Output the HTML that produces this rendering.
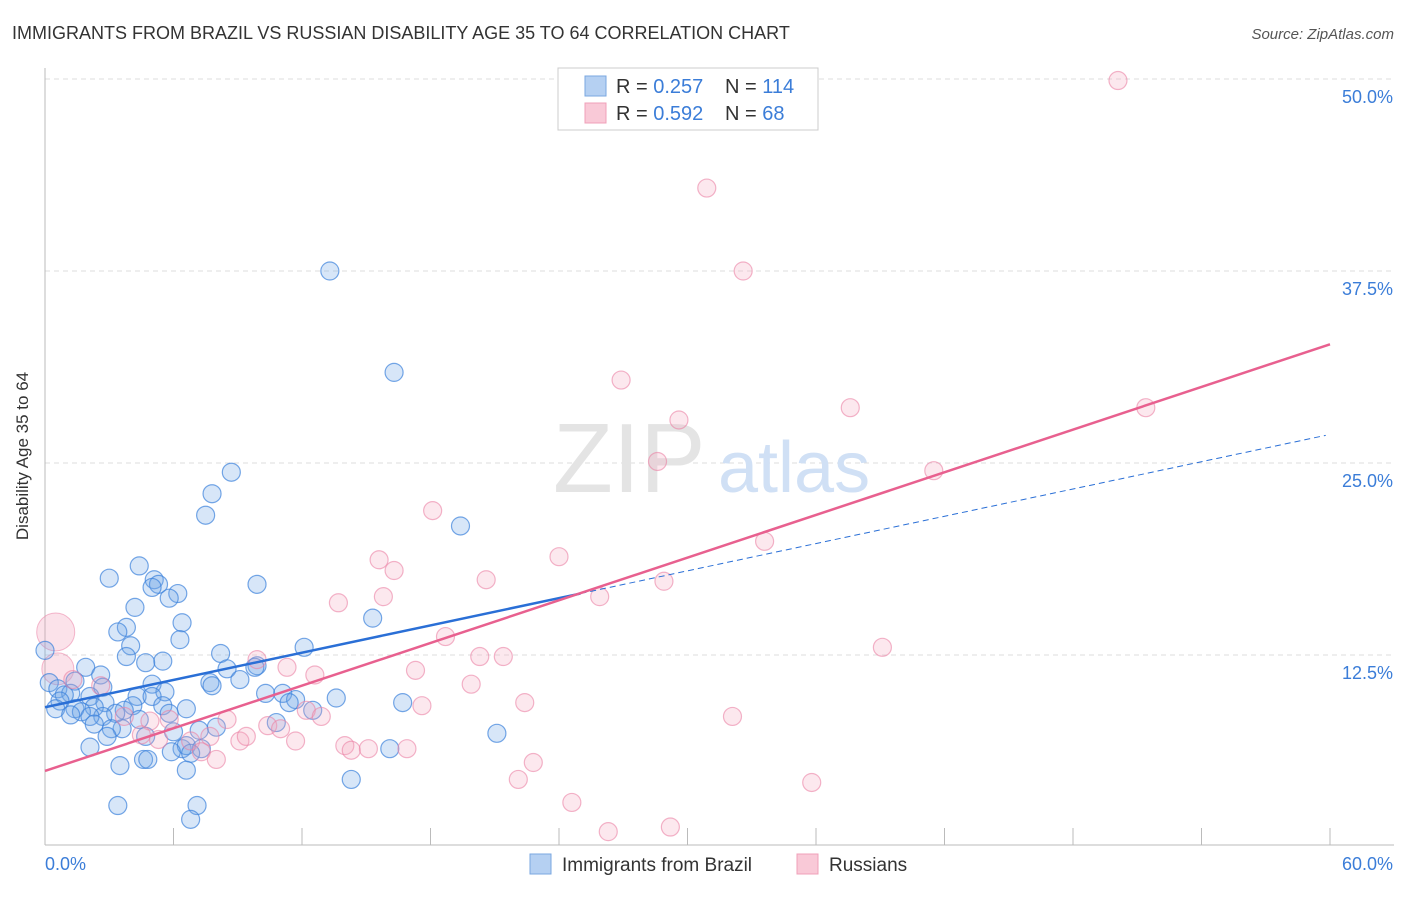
<!DOCTYPE html>
<html><head><meta charset="utf-8"><style>
body{margin:0;background:#fff;font-family:"Liberation Sans",sans-serif;}
svg text{font-family:"Liberation Sans",sans-serif;}
</style></head><body>
<svg width="1406" height="892" viewBox="0 0 1406 892" xmlns="http://www.w3.org/2000/svg">
<text x="12" y="39" font-size="18" fill="#333">IMMIGRANTS FROM BRAZIL VS RUSSIAN DISABILITY AGE 35 TO 64 CORRELATION CHART</text>
<text x="1394" y="39" font-size="15" fill="#555" font-style="italic" text-anchor="end">Source: ZipAtlas.com</text>
<text x="28" y="456" font-size="17" fill="#333" text-anchor="middle" transform="rotate(-90 28 456)">Disability Age 35 to 64</text>
<g id="grid"></g>
<g id="axes"></g>
<text x="553" y="492" font-size="98" fill="#e4e4e4" font-family="Liberation Serif">ZIP</text>
<text x="718" y="492" font-size="72" fill="#d0e0f5">atlas</text>
<g id="pts"></g>
<g id="lines"></g>
<g>
<rect x="558" y="68" width="260" height="62" fill="#fff" stroke="#ccc"/>
<rect x="585" y="76" width="21" height="20" fill="#b5d0f2" stroke="#7aa7e0"/>
<rect x="585" y="103" width="21" height="20" fill="#f9c9d7" stroke="#f0a0b8"/>
<text x="616" y="93" font-size="20" fill="#333">R = <tspan fill="#3b7dd8">0.257</tspan></text>
<text x="725" y="93" font-size="20" fill="#333">N = <tspan fill="#3b7dd8">114</tspan></text>
<text x="616" y="120" font-size="20" fill="#333">R = <tspan fill="#3b7dd8">0.592</tspan></text>
<text x="725" y="120" font-size="20" fill="#333">N = <tspan fill="#3b7dd8"> 68</tspan></text>
</g>
<g>
<rect x="530" y="854" width="21" height="20" fill="#b5d0f2" stroke="#7aa7e0"/>
<text x="562" y="871" font-size="19" fill="#333">Immigrants from Brazil</text>
<rect x="797" y="854" width="21" height="20" fill="#f9c9d7" stroke="#f0a0b8"/>
<text x="829" y="871" font-size="19" fill="#333">Russians</text>
</g>
</svg>
<script>
const yTicks=[12.5,25,37.5,50];
const yTickLabels=["12.5%","25.0%","37.5%","50.0%"];
const xTicks=[0,6,12,18,24,30,36,42,48,54,60];
const blueX=[13.3,16.3,8.7,7.8,7.5,19.4,4.4,3.0,5.1,5.3,9.9,5.0,6.2,5.8,4.2,15.3,6.4,3.8,3.4,6.3,4.0,12.1,0,8.2,3.8,5.5,4.7,9.9,9.8,1.9,8.5,2.6,9.1,1.4,0.2,7.7,7.8,5.0,2.7,0.6,5.6,10.3,11.1,4.3,1.2,0.9,2.1,5.0,11.7,13.6,0.7,2.8,5.5,16.7,11.4,4.1,2.3,0.5,1.4,3.7,1.7,6.6,5.8,3.3,2.7,12.5,1.2,2.1,4.4,10.8,2.3,3.6,8.0,7.2,3.1,6.0,21.1,2.9,4.7,2.1,6.4,6.6,7.3,5.9,6.8,16.1,4.6,4.8,3.5,6.6,14.3,3.4,7.1,6.8];
const blueY=[37.5,30.9,24.4,23.0,21.6,20.9,18.3,17.5,17.4,17.1,17.1,16.9,16.5,16.2,15.6,14.9,14.6,14.3,14.0,13.5,13.1,13.0,12.8,12.6,12.4,12.1,12.0,11.8,11.7,11.7,11.6,11.2,10.9,10.8,10.7,10.7,10.5,10.6,10.4,10.3,10.1,10.0,10.0,9.8,10.0,9.9,9.8,9.8,9.6,9.7,9.5,9.4,9.2,9.4,9.4,9.2,9.1,9.0,9.0,8.9,8.8,9.0,8.7,8.7,8.5,8.9,8.6,8.5,8.3,8.1,8.0,7.7,7.8,7.6,7.7,7.5,7.4,7.2,7.2,6.5,6.4,6.6,6.4,6.2,6.1,6.4,5.7,5.7,5.3,5.0,4.4,2.7,2.7,1.8];
const pinkX=[50.1,30.9,32.6,26.9,37.6,51.4,29.6,28.6,41.5,18.1,24.0,33.6,15.6,16.3,20.6,28.9,25.9,15.8,13.7,18.7,39.1,20.3,21.4,9.9,11.3,17.3,12.6,19.9,1.3,2.6,22.4,17.6,12.2,32.1,12.9,8.5,3.7,4.9,5.8,10.4,11.0,4.5,5.3,7.7,9.1,9.4,11.7,14.0,14.3,15.1,16.9,6.8,7.3,8.0,22.8,22.1,35.8,24.6,29.2,26.3];
const pinkY=[49.9,42.9,37.5,30.4,28.6,28.6,27.8,25.1,24.5,21.9,18.9,19.9,18.7,18.0,17.4,17.3,16.3,16.3,15.9,13.7,13.0,12.4,12.4,12.2,11.7,11.5,11.2,10.6,10.9,10.5,9.4,9.2,8.9,8.5,8.5,8.3,8.5,8.2,8.3,7.9,7.7,7.3,7.0,7.2,6.9,7.2,6.9,6.6,6.3,6.4,6.4,6.9,6.2,5.7,5.5,4.4,4.2,2.9,1.3,1.0];
const bigPinkX=[0.5,0.6];
const bigPinkY=[14.0,11.6];
const blueTrend=[9.1,0.296];
const pinkTrend=[4.95,0.463];
const NS="http://www.w3.org/2000/svg";
const sx=v=>45+v/60*1285;
const sy=v=>847-v/12.5*192;
function mk(tag,attrs,parent){const e=document.createElementNS(NS,tag);for(const k in attrs)e.setAttribute(k,attrs[k]);parent.appendChild(e);return e;}
const grid=document.getElementById('grid'),axes=document.getElementById('axes'),pts=document.getElementById('pts'),lines=document.getElementById('lines');
yTicks.forEach((t,i)=>{
 const l=mk('line',{x1:45,x2:1394,y1:sy(t),y2:sy(t),stroke:'#ddd','stroke-dasharray':'5,4'},grid);
 
 
 const tx=mk('text',{x:1393,y:sy(t)+24,'font-size':18,fill:'#3b7dd8','text-anchor':'end'},grid);
 tx.textContent=yTickLabels[i];
 
 
});
mk('line',{x1:45,x2:45,y1:68,y2:845,stroke:'#bbb'},axes);
mk('line',{x1:45,x2:1394,y1:845,y2:845,stroke:'#bbb'},axes);
xTicks.forEach(t=>{
 const l=mk('line',{x1:sx(t),x2:sx(t),y1:828,y2:845,stroke:'#bbb'},axes);
 
 
});
const x0=mk('text',{x:45,y:870,'font-size':18,fill:'#3b7dd8'},axes);x0.textContent='0.0%';


const x1=mk('text',{x:1393,y:870,'font-size':18,fill:'#3b7dd8','text-anchor':'end'},axes);x1.textContent='60.0%';


bigPinkX.forEach((v,i)=>{
 const c=mk('circle',{cx:sx(v),cy:sy(bigPinkY[i]),r:i==0?19:16,fill:'rgba(240,150,180,0.28)',stroke:'rgba(235,130,165,0.55)'},pts);
 
 
});
blueX.forEach((v,i)=>{
 const c=mk('circle',{cx:sx(v),cy:sy(blueY[i]),r:9,fill:'rgba(110,165,230,0.28)',stroke:'rgba(60,130,220,0.7)','stroke-width':1.2},pts);
 
 
});
pinkX.forEach((v,i)=>{
 const c=mk('circle',{cx:sx(v),cy:sy(pinkY[i]),r:9,fill:'rgba(245,165,190,0.26)',stroke:'rgba(235,130,165,0.6)','stroke-width':1.2},pts);
 
 
});
const bl=mk('line',{x1:sx(0),y1:sy(blueTrend[0]),x2:sx(25),y2:sy(blueTrend[0]+blueTrend[1]*25),stroke:'#2a6fd6','stroke-width':2.5},lines);


const bd=mk('line',{x1:sx(25),y1:sy(blueTrend[0]+blueTrend[1]*25),x2:sx(59.8),y2:sy(blueTrend[0]+blueTrend[1]*59.8),stroke:'#2a6fd6','stroke-width':1,'stroke-dasharray':'6,4'},lines);


const pl=mk('line',{x1:sx(0),y1:sy(pinkTrend[0]),x2:sx(60),y2:sy(pinkTrend[0]+pinkTrend[1]*60),stroke:'#e8608f','stroke-width':2.5},lines);


</script>
</body></html>
